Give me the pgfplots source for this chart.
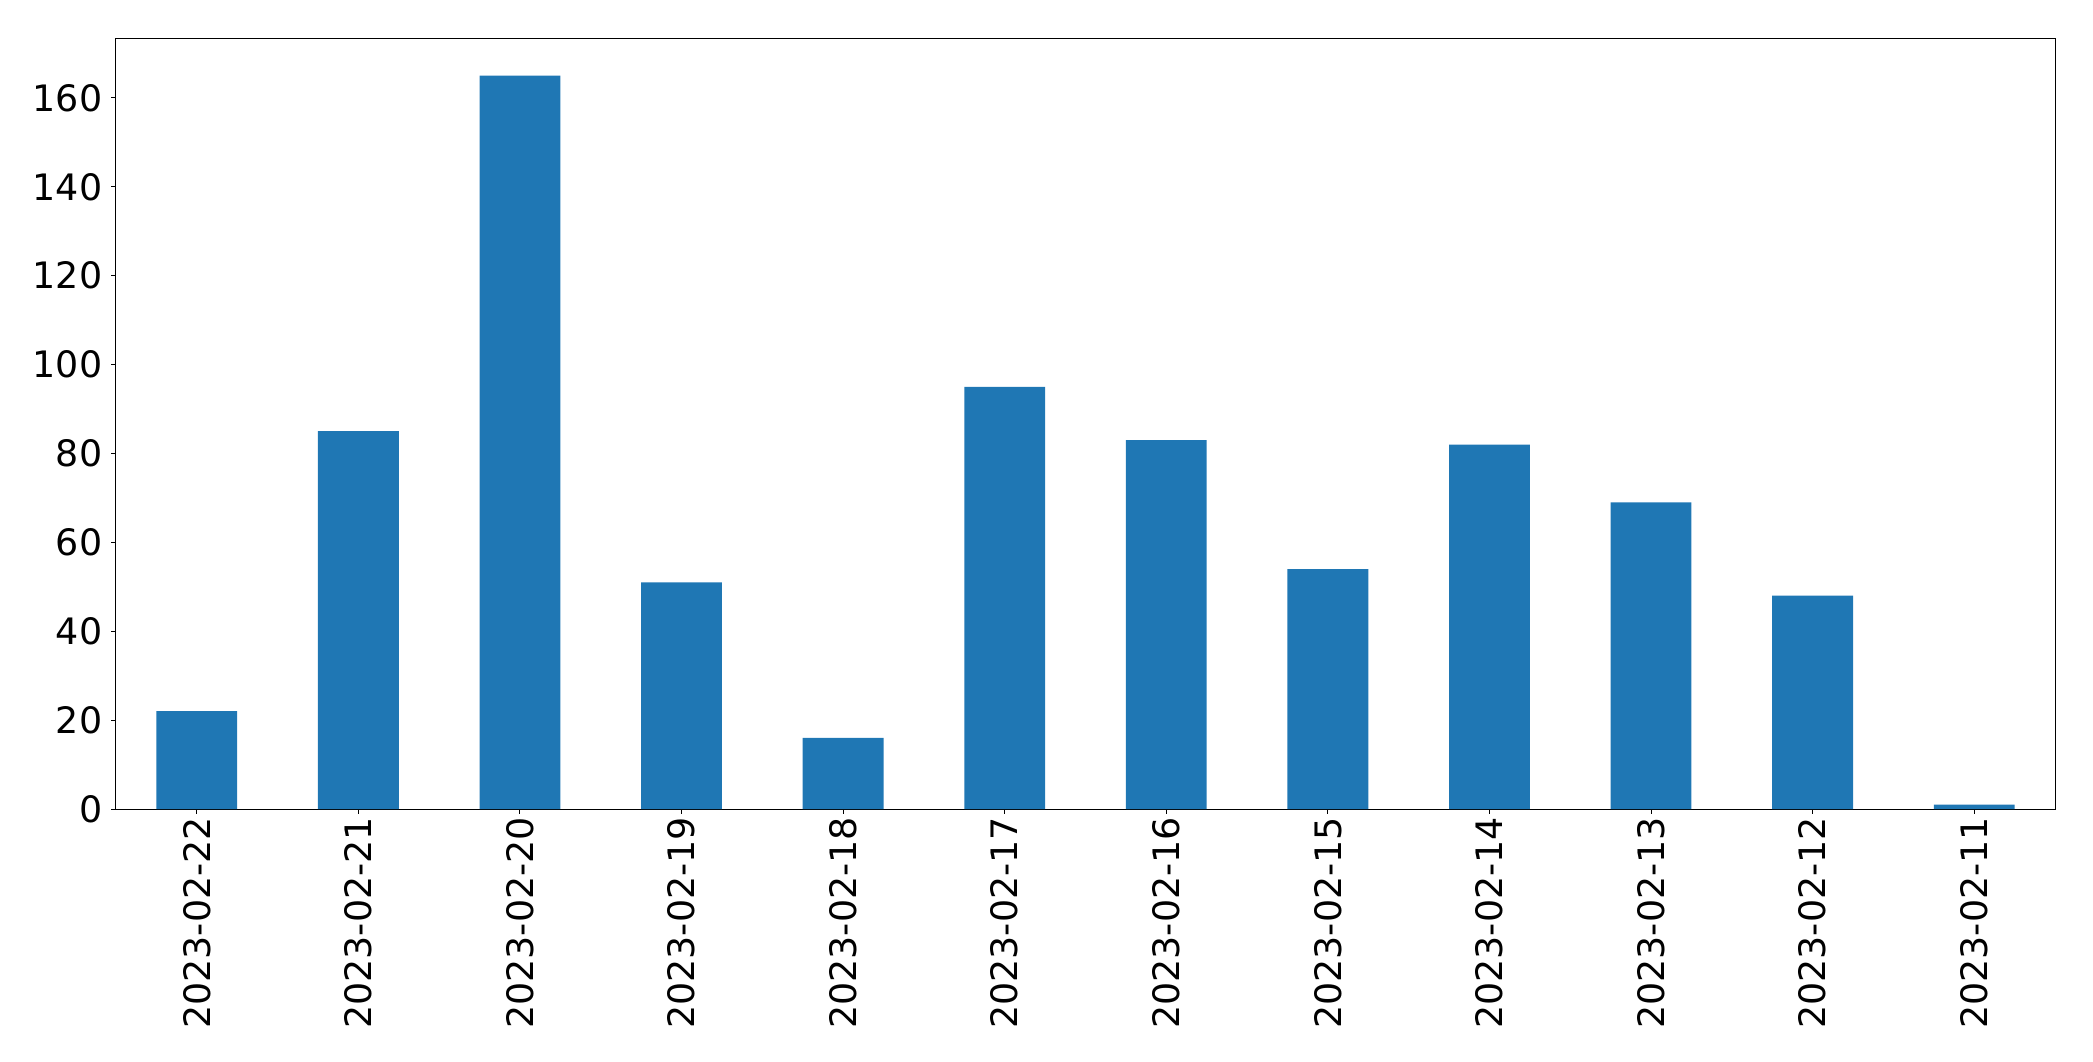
\documentclass[border=0pt]{standalone}
\usepackage{fontspec}
\setmainfont{DejaVu Sans}
\usepackage{pgfplots}
\pgfplotsset{compat=1.18}
\usetikzlibrary{calc}
\definecolor{mplblue}{RGB}{31,119,180}

\begin{document}
\fontsize{18.2}{22}\selectfont
\begin{tikzpicture}
\begin{axis}[
    name=ax,
    scale only axis,
    width=969.5pt,
    height=385pt,
    xmin=-0.5, xmax=11.5,
    ymin=0, ymax=173.25,
    axis line style={line width=0.5pt},
    tick style={line width=0.5pt, black},
    tick align=outside,
    major tick length=2.35pt,
    xtick pos=bottom,
    ytick pos=left,
    xtick={0,...,11},
    xticklabels={2023-02-22,2023-02-21,2023-02-20,2023-02-19,2023-02-18,2023-02-17,2023-02-16,2023-02-15,2023-02-14,2023-02-13,2023-02-12,2023-02-11},
    x tick label style={rotate=90, anchor=east, inner sep=0pt, xshift=-1.5pt},
    ytick={0,20,...,160},
    y tick label style={inner sep=0pt, xshift=-4.3pt},
    /pgf/number format/assume math mode=true,
    ticklabel style={font=\fontsize{18.2}{22}\selectfont},
]
\addplot[ybar, bar width=0.5, fill=mplblue, draw=none] coordinates {
    (0,22) (1,85) (2,165) (3,51) (4,16) (5,95)
    (6,83) (7,54) (8,82) (9,69) (10,48) (11,1)
};
\end{axis}
\path (ax.south west) ++(-58pt,-126pt) rectangle ($(ax.north east)+(19pt,19.5pt)$);
\end{tikzpicture}
\end{document}
